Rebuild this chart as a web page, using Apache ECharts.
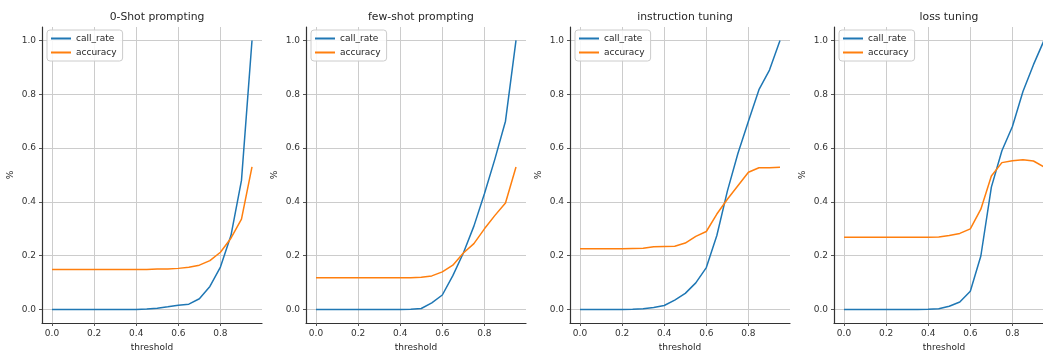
<!DOCTYPE html>
<html>
<head>
<meta charset="utf-8">
<script src="https://cdn.jsdelivr.net/npm/echarts@6/dist/echarts.min.js"></script>
<style>html,body{margin:0;padding:0;background:#fff}#c{width:1043px;height:350px}</style>
</head>
<body>
<div id="c"></div>
<script>
const thresholds = [0,0.05,0.1,0.15,0.2,0.25,0.3,0.35,0.4,0.45,0.5,0.55,0.6,0.65,0.7,0.75,0.8,0.85,0.9,0.95];
const titles = ['0-Shot prompting','few-shot prompting','instruction tuning','loss tuning'];
const xTicks = [0,0.2,0.4,0.6,0.8];
const yTicks = [0,0.2,0.4,0.6,0.8,1.0];

const zeroShotCallRate = [0,0,0,0,0,0,0,0,0,0.002,0.005,0.01,0.016,0.02,0.04,0.086,0.158,0.275,0.48,1.0];
const zeroShotAccuracy = [0.149,0.149,0.149,0.149,0.149,0.149,0.149,0.149,0.149,0.149,0.151,0.151,0.153,0.157,0.165,0.182,0.213,0.265,0.336,0.53];
const fewShotCallRate = [0,0,0,0,0,0,0,0,0,0.001,0.004,0.025,0.054,0.126,0.21,0.31,0.43,0.56,0.70,1.0];
const fewShotAccuracy = [0.118,0.118,0.118,0.118,0.118,0.118,0.118,0.118,0.118,0.118,0.12,0.125,0.14,0.165,0.21,0.245,0.30,0.35,0.396,0.53];
const instrCallRate = [0,0,0,0,0,0.001,0.003,0.008,0.015,0.035,0.06,0.099,0.156,0.275,0.44,0.58,0.70,0.817,0.89,1.0];
const instrAccuracy = [0.226,0.226,0.226,0.226,0.226,0.227,0.228,0.233,0.234,0.235,0.247,0.272,0.29,0.355,0.41,0.46,0.51,0.527,0.527,0.529];
const lossCallRate = [0,0,0,0,0,0,0,0,0.001,0.003,0.012,0.028,0.068,0.199,0.455,0.59,0.68,0.81,0.91,1.0];
const lossAccuracy = [0.269,0.269,0.269,0.269,0.269,0.269,0.269,0.269,0.269,0.27,0.275,0.283,0.30,0.373,0.496,0.546,0.553,0.557,0.552,0.53];

const callRates = [zeroShotCallRate, fewShotCallRate, instrCallRate, lossCallRate];
const accuracies = [zeroShotAccuracy, fewShotAccuracy, instrAccuracy, lossAccuracy];

(function () {
const FONT = 'DejaVu Sans';
const left0 = 42, step = 264, w = 220, gTop = 27, gH = 296;
const grids = [], xAxes = [], yAxes = [], series = [], titleArr = [], legends = [];
for (let i = 0; i < 4; i++) {
  const L = left0 + step * i;
  grids.push({left: L, top: gTop, width: w, height: gH, containLabel: false, outerBoundsMode: 'none'});
  titleArr.push({text: titles[i], left: L + w / 2, top: 7, textAlign: 'center',
    textStyle: {fontFamily: FONT, fontSize: 10.8, fontWeight: 'normal', color: '#262626'}});
  xAxes.push({type: 'value', gridIndex: i, min: -0.0475, max: 0.9975,
    name: 'threshold', nameLocation: 'middle', nameGap: 13,
    nameTextStyle: {fontFamily: FONT, fontSize: 9, color: '#262626', verticalAlign: 'top'},
    axisLine: {show: true, onZero: false, lineStyle: {color: '#333', width: 1.2}},
    axisTick: {show: true, length: 3, customValues: xTicks, lineStyle: {color: '#555', width: 1}},
    axisLabel: {customValues: xTicks, margin: 6, fontFamily: FONT, fontSize: 9, color: '#333',
      formatter: v => v.toFixed(1)},
    splitLine: {show: true, lineStyle: {color: '#cccccc', width: 1}}});
  yAxes.push({type: 'value', gridIndex: i, min: -0.05, max: 1.05,
    name: '%', nameLocation: 'middle', nameGap: 27, nameRotate: 90,
    nameTextStyle: {fontFamily: FONT, fontSize: 9, color: '#262626'},
    axisLine: {show: true, onZero: false, lineStyle: {color: '#333', width: 1.2}},
    axisTick: {show: true, length: 3, customValues: yTicks, lineStyle: {color: '#555', width: 1}},
    axisLabel: {customValues: yTicks, margin: 6, fontFamily: FONT, fontSize: 9, color: '#333',
      formatter: v => v.toFixed(1)},
    splitLine: {show: true, lineStyle: {color: '#cccccc', width: 1}}});
  series.push({name: 'call_rate', type: 'line', xAxisIndex: i, yAxisIndex: i, symbol: 'none',
    data: thresholds.map((t, k) => [t, callRates[i][k]]), lineStyle: {color: '#1f77b4', width: 1.5},
    itemStyle: {color: '#1f77b4'}, animation: false, z: 3});
  series.push({name: 'accuracy', type: 'line', xAxisIndex: i, yAxisIndex: i, symbol: 'none',
    data: thresholds.map((t, k) => [t, accuracies[i][k]]), lineStyle: {color: '#ff7f0e', width: 1.5},
    itemStyle: {color: '#ff7f0e'}, animation: false, z: 3});
  legends.push({data: ['call_rate', 'accuracy'], orient: 'vertical', left: L + 5, top: 30,
    itemWidth: 20, itemHeight: 2, itemGap: 5, padding: [4, 6, 4, 4],
    backgroundColor: 'rgba(255,255,255,0.85)', borderColor: '#cccccc', borderWidth: 1, borderRadius: 3,
    icon: 'rect', selectedMode: false,
    textStyle: {fontFamily: FONT, fontSize: 9, color: '#262626', padding: [0, 0, 0, 0]}});
}
const chart = echarts.init(document.getElementById('c'), null, {renderer: 'canvas'});
chart.setOption({
  backgroundColor: '#ffffff', animation: false,
  title: titleArr, grid: grids, xAxis: xAxes, yAxis: yAxes, legend: legends, series: series
});
})();
</script>
</body>
</html>
